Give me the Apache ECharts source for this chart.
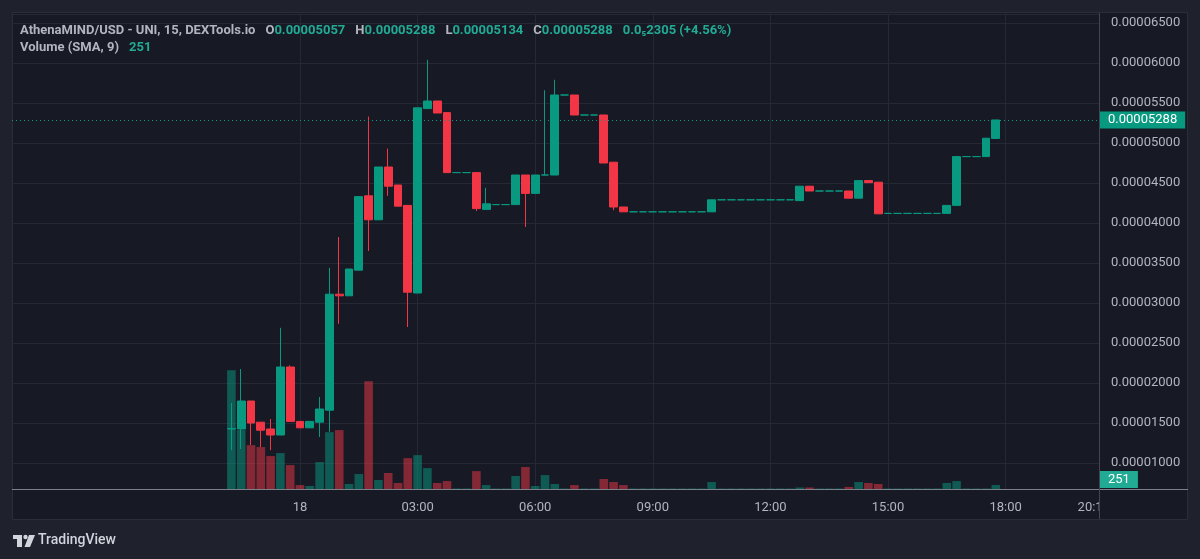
<!DOCTYPE html>
<html>
<head>
<meta charset="utf-8">
<title>AthenaMIND/USD</title>
<script src="https://cdn.jsdelivr.net/npm/echarts@6/dist/echarts.min.js"></script>
<style>
  html, body { margin: 0; padding: 0; background: #1f222c; }
  #chart { width: 1200px; height: 559px; }
</style>
</head>
<body>
<div id="chart"></div>
<script>
// prices are in units of 0.00000001 (so 5288 = 0.00005288)
var openData = [
  1425, 1425, 1775, 1510, 1425, 1350, 2200, 1520, 1440, 1510,
  1660, 3110, 3090, 3410, 4340, 4040, 4700, 4475, 4220, 3125,
  5430, 5525, 5380, 4630, 4630, 4630, 4170, 4230, 4230, 4230,
  4600, 4370, 4600, 4600, 5600, 5600, 5350, 5350, 5350, 4760,
  4200, 4140, 4140, 4140, 4140, 4140, 4140, 4140, 4140, 4140,
  4290, 4290, 4290, 4290, 4290, 4290, 4290, 4290, 4280, 4460,
  4400, 4400, 4400, 4400, 4310, 4530, 4510, 4120, 4120, 4120,
  4120, 4120, 4120, 4120, 4220, 4830, 4830, 4830, 5057
];
var closeData = [
  1430, 1775, 1500, 1410, 1350, 2200, 1520, 1440, 1520, 1675,
  3110, 3090, 3425, 4330, 4040, 4700, 4460, 4210, 3135, 5440,
  5525, 5375, 4630, 4630, 4630, 4180, 4240, 4230, 4230, 4600,
  4370, 4600, 4600, 5600, 5600, 5350, 5350, 5350, 4750, 4200,
  4140, 4140, 4140, 4140, 4140, 4140, 4140, 4140, 4140, 4290,
  4290, 4290, 4290, 4290, 4290, 4290, 4290, 4290, 4460, 4400,
  4400, 4400, 4400, 4310, 4530, 4505, 4115, 4120, 4120, 4120,
  4120, 4120, 4120, 4220, 4830, 4830, 4830, 5060, 5288
];
var lowData = [
  1160, 1175, 1225, 1200, 1160, 1350, 1520, 1440, 1440, 1325,
  1390, 2740, 3090, 3410, 3650, 4040, 4340, 4210, 2700, 3125,
  5430, 5375, 4630, 4630, 4630, 4150, 4170, 4230, 4230, 4230,
  3950, 4370, 4600, 4600, 5600, 5350, 5350, 5350, 4750, 4160,
  4140, 4140, 4140, 4140, 4140, 4140, 4140, 4140, 4140, 4140,
  4290, 4290, 4290, 4290, 4290, 4290, 4290, 4290, 4280, 4400,
  4400, 4400, 4400, 4310, 4310, 4505, 4115, 4120, 4120, 4120,
  4120, 4120, 4120, 4120, 4220, 4830, 4830, 4830, 5057
];
var highData = [
  1750, 2175, 1775, 1510, 1550, 2690, 2220, 1520, 1520, 1825,
  3440, 3825, 3425, 4330, 5330, 4700, 4930, 4475, 4220, 5440,
  6040, 5525, 5380, 4630, 4630, 4630, 4440, 4230, 4230, 4600,
  4600, 4600, 5660, 5790, 5600, 5600, 5350, 5350, 5350, 4760,
  4200, 4140, 4140, 4140, 4140, 4140, 4140, 4140, 4140, 4290,
  4290, 4290, 4290, 4290, 4290, 4290, 4290, 4290, 4460, 4460,
  4400, 4400, 4400, 4400, 4530, 4530, 4510, 4120, 4120, 4120,
  4120, 4120, 4120, 4220, 4830, 4830, 4830, 5060, 5288
];
var volumeData = [
  7500, 3720, 2770, 2650, 2080, 2270, 1510, 250, 190, 1700,
  3590, 3720, 315, 945, 6800, 570, 1010, 380, 1950, 2140,
  1320, 380, 500, 30, 30, 1130, 250, 30, 30, 820,
  1390, 190, 880, 315, 30, 250, 30, 30, 630, 440,
  250, 30, 30, 30, 30, 30, 30, 30, 30, 440,
  30, 30, 30, 30, 30, 30, 30, 30, 95, 95,
  30, 30, 30, 130, 440, 380, 315, 30, 30, 30,
  30, 30, 30, 380, 500, 30, 30, 30, 251
];

// 15 minute slots on the time axis, first slot 16:45 of the 17th
var leadSlots = 22;
var slotCount = 111;
var startMinutes = 16 * 60 + 45;

var upColor = '#089981';
var downColor = '#f23645';
var panelColor = '#171a25';
var gridColor = '#252935';
var textColor = '#b2b5be';
var fontFamily = 'Roboto, "Noto Sans", sans-serif';

function pad(n) { return (n < 10 ? '0' : '') + n; }

var timeSlots = [];
for (var i = 0; i < slotCount; i++) {
  var m = (startMinutes + i * 15) % 1440;
  timeSlots.push(pad(Math.floor(m / 60)) + ':' + pad(m % 60));
}

var candles = [];
var volumes = [];
for (var i = 0; i < slotCount; i++) {
  var k = i - leadSlots;
  if (k >= 0 && k < openData.length) {
    candles.push([openData[k], closeData[k], lowData[k], highData[k]]);
    volumes.push({
      value: volumeData[k],
      itemStyle: { color: closeData[k] >= openData[k] ? 'rgba(8,153,129,0.5)' : 'rgba(242,54,69,0.5)' }
    });
  } else {
    candles.push('-');
    volumes.push('-');
  }
}

function isMajor(index, value) {
  return index >= leadSlots && value.slice(3) === '00' && (+value.slice(0, 2)) % 3 === 0;
}
function fmtPrice(v) { return (v / 1e8).toFixed(8); }

var last = openData.length - 1;
var chart = echarts.init(document.getElementById('chart'));

var option = {
  backgroundColor: '#1f222c',
  animation: false,
  title: [
    {
      left: 20, top: 22, padding: 0,
      text: '{n|AthenaMIND/USD - UNI, 15, DEXTools.io}  {n|O}{v|' + fmtPrice(openData[last]) +
        '}  {n|H}{v|0.00005288}  {n|L}{v|0.00005134}  {n|C}{v|' + fmtPrice(closeData[last]) +
        '}  {v|0.0₅2305 (+4.56%)}',
      textStyle: {
        rich: {
          n: { color: textColor, fontSize: 13, fontFamily: fontFamily },
          v: { color: '#22ab94', fontSize: 13, fontFamily: fontFamily }
        }
      }
    },
    {
      left: 20, top: 39, padding: 0,
      text: '{n|Volume (SMA, 9)}  {v|' + volumeData[last] + '}',
      textStyle: {
        rich: {
          n: { color: textColor, fontSize: 13, fontFamily: fontFamily },
          v: { color: '#22ab94', fontSize: 13, fontFamily: fontFamily }
        }
      }
    }
  ],
  grid: [
    { left: 15.8, width: 1078, top: 14, height: 475 },
    { left: 12, width: 1087, top: 14, height: 475 }
  ],
  xAxis: [
    {
      type: 'category', gridIndex: 0, data: timeSlots, boundaryGap: false,
      axisLine: { show: false },
      axisTick: { show: false },
      axisLabel: {
        color: textColor, fontSize: 13, fontFamily: fontFamily, margin: 12,
        interval: function (index, value) { return isMajor(index, value) || index === slotCount - 1; },
        formatter: function (value) { return value === '00:00' ? '18' : value; }
      },
      splitLine: { show: true, interval: isMajor, lineStyle: { color: gridColor, width: 1 } }
    },
    { type: 'value', gridIndex: 1, min: 0, max: 1, show: false }
  ],
  yAxis: [
    { type: 'value', gridIndex: 0, min: 675, max: 6612.5, show: false },
    { type: 'value', gridIndex: 0, min: 0, max: 30000, show: false },
    {
      type: 'value', gridIndex: 1, position: 'right', min: 675, max: 6612.5, splitNumber: 12,
      axisLine: { show: false },
      axisTick: { show: false },
      axisLabel: {
        color: textColor, fontSize: 13, fontFamily: fontFamily, margin: 12,
        showMinLabel: false, showMaxLabel: false,
        formatter: fmtPrice
      },
      splitLine: { show: true, lineStyle: { color: gridColor, width: 1 } }
    }
  ],
  series: [
    {
      type: 'candlestick', xAxisIndex: 0, yAxisIndex: 0,
      data: candles, barWidth: 8.4,
      itemStyle: {
        color: upColor, color0: downColor,
        borderColor: upColor, borderColor0: downColor, borderColorDoji: upColor,
        borderWidth: 1
      }
    },
    {
      type: 'bar', xAxisIndex: 0, yAxisIndex: 1, z: 3,
      data: volumes, barWidth: 8.6
    },
    {
      type: 'line', xAxisIndex: 1, yAxisIndex: 2, data: [],
      markLine: {
        silent: true, symbol: 'none',
        data: [{ yAxis: closeData[last] }],
        lineStyle: { color: upColor, type: [1, 3], width: 1 },
        label: {
          position: 'end', distance: 1,
          formatter: function () { return fmtPrice(closeData[last]); },
          color: '#ffffff', backgroundColor: upColor, padding: [2, 8],
          fontSize: 13, fontFamily: fontFamily
        }
      }
    }
  ],
  graphic: [
    {
      type: 'rect', z: -10, silent: true,
      shape: { x: 12.5, y: 12.5, width: 1175, height: 507 },
      style: { fill: panelColor, stroke: '#2a2e39', lineWidth: 1 }
    },
    {
      type: 'line', z: 50, silent: true,
      shape: { x1: 12, y1: 489.5, x2: 1188, y2: 489.5 },
      style: { stroke: '#7c808b', lineWidth: 1 }
    },
    {
      type: 'rect', z: 60, silent: true,
      shape: { x: 1100, y: 491, width: 87, height: 28 },
      style: { fill: panelColor }
    },
    {
      type: 'line', z: 61, silent: true,
      shape: { x1: 1099.5, y1: 13, x2: 1099.5, y2: 519 },
      style: { stroke: '#434651', lineWidth: 1 }
    },
    {
      type: 'text', z: 70, silent: true, x: 1100, y: 471,
      style: {
        text: String(volumeData[last]), fill: '#ffffff', backgroundColor: '#22ab94',
        padding: [2, 8], font: '13px ' + fontFamily
      }
    },
    {
      type: 'group', silent: true, z: 70,
      children: [
        { type: 'rect', shape: { x: 13, y: 535, width: 9, height: 4 }, style: { fill: '#d1d4dc' } },
        { type: 'rect', shape: { x: 17, y: 535, width: 5, height: 12 }, style: { fill: '#d1d4dc' } },
        { type: 'circle', shape: { cx: 25.5, cy: 537, r: 2.2 }, style: { fill: '#d1d4dc' } },
        { type: 'polygon', shape: { points: [[29, 535], [35, 535], [30, 547], [24.5, 547]] }, style: { fill: '#d1d4dc' } },
        {
          type: 'text', x: 38, y: 533,
          style: { text: 'TradingView', fill: '#d1d4dc', font: '500 14px ' + fontFamily }
        }
      ]
    }
  ]
};

chart.setOption(option);
</script>
</body>
</html>
